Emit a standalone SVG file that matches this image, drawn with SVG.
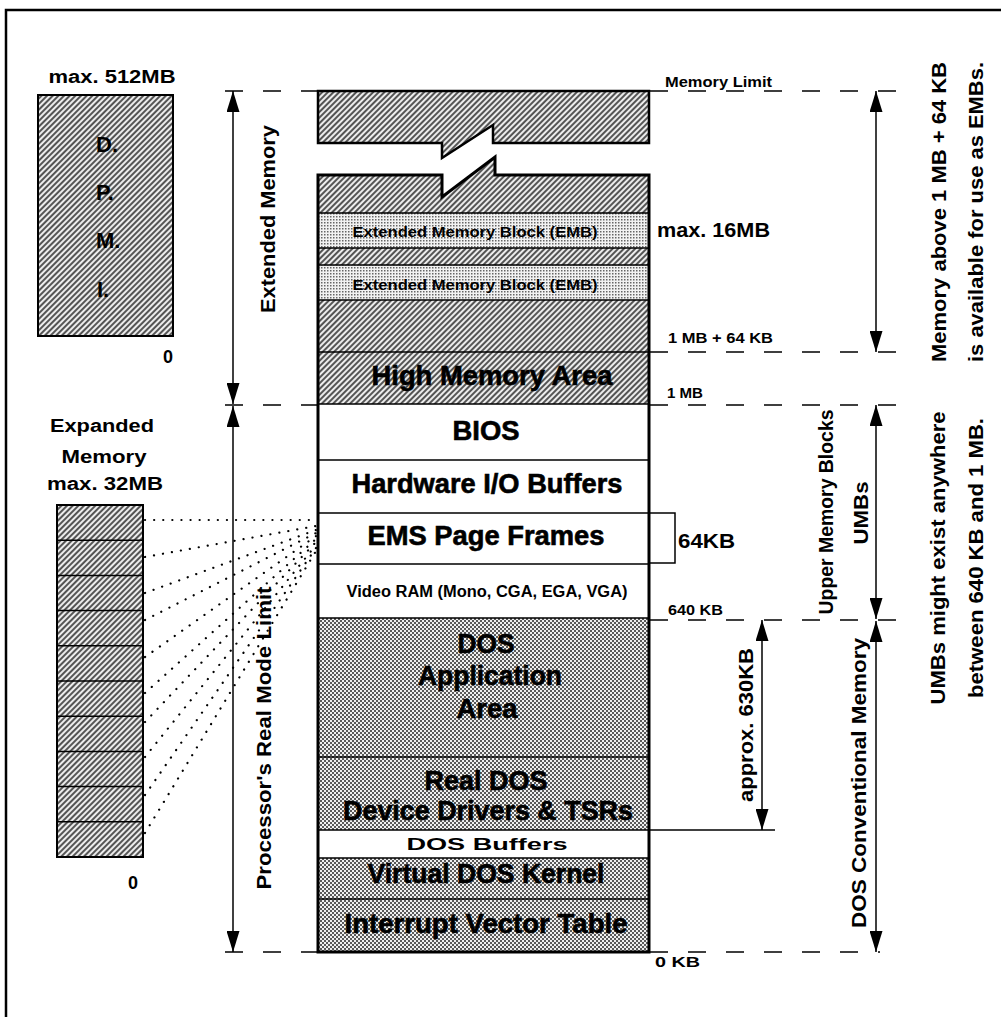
<svg xmlns="http://www.w3.org/2000/svg" width="1001" height="1017" viewBox="0 0 1001 1017">
<style>
.t{font-family:"Liberation Sans",Arial,Helvetica,sans-serif;font-weight:bold;fill:#000}
.big{font-size:27px;stroke:#000;stroke-width:0.6}
.md{font-size:18px}
.sm{font-size:14px}
.rot{font-size:21px}
.mid{text-anchor:middle}
.end{text-anchor:end}
.sep{stroke:#000;stroke-width:1.5}
.box{stroke:#000;stroke-width:2}
.dash{stroke:#000;stroke-width:1.5;stroke-dasharray:18 20;fill:none}
.arr{stroke:#000;stroke-width:1.5;fill:none;marker-start:url(#ah);marker-end:url(#ah)}
.dot{stroke:#000;stroke-width:2.2;stroke-linecap:round;stroke-dasharray:0.1 9;fill:none}
.thin{stroke:#000;stroke-width:1.5;fill:none}
</style>
<defs>
<pattern id="hatch" patternUnits="userSpaceOnUse" width="4" height="4" patternTransform="rotate(45)">
<rect width="4" height="4" fill="#ececec"/><rect width="2" height="4" fill="#555"/>
</pattern>
<pattern id="chk" patternUnits="userSpaceOnUse" width="4" height="4">
<rect width="4" height="4" fill="#f0f0f0"/><rect width="2" height="2" fill="#5a5a5a"/><rect x="2" y="2" width="2" height="2" fill="#5a5a5a"/>
</pattern>
<pattern id="lt" patternUnits="userSpaceOnUse" width="3" height="3">
<rect width="3" height="3" fill="#f2f2f2"/><rect width="1.5" height="1.5" fill="#666"/>
</pattern>
<marker id="ah" markerUnits="userSpaceOnUse" markerWidth="21" markerHeight="13" refX="21" refY="6.5" orient="auto-start-reverse" viewBox="0 0 21 13">
<path d="M0,0 L21,6.5 L0,13 z" fill="#000"/>
</marker>
</defs>
<rect width="1001" height="1017" fill="#fff"/>
<g id="frame"><path d="M6,1017 V10 H1001" fill="none" stroke="#000" stroke-width="2.5"/></g>

<g id="dpmi">
<text class="t md mid" x="112" y="83" textLength="127" lengthAdjust="spacingAndGlyphs">max. 512MB</text>
<rect class="box" x="38" y="95" width="135" height="241" fill="url(#hatch)"/>
<text class="t" style="font-size:22px" x="96" y="152">D.</text>
<text class="t" style="font-size:22px" x="96" y="200">P.</text>
<text class="t" style="font-size:22px" x="96" y="248">M.</text>
<text class="t" style="font-size:22px" x="97" y="297">I.</text>
<text class="t md end" x="173" y="363">0</text>
</g>

<g id="expanded">
<text class="t md mid" x="102" y="432" textLength="104" lengthAdjust="spacingAndGlyphs">Expanded</text>
<text class="t md mid" x="104" y="463" textLength="85" lengthAdjust="spacingAndGlyphs">Memory</text>
<text class="t md mid" x="105" y="490" textLength="116" lengthAdjust="spacingAndGlyphs">max. 32MB</text>
<rect class="box" x="57" y="505" width="86" height="352" fill="url(#hatch)"/>
<path class="sep" d="M57,540.2H143M57,575.4H143M57,610.6H143M57,645.8H143M57,681H143M57,716.2H143M57,751.4H143M57,786.6H143M57,821.8H143"/>
<text class="t md mid" x="133" y="889">0</text>
</g>

<g id="extended-top">
<polygon points="318,91 649,91 649,143 493,143 493,125 442,158 442,143 318,143" fill="url(#hatch)" stroke="#000" stroke-width="2.5"/>
</g>

<g id="memory-column">
<g id="ext-free-1"><polygon points="318,213 318,175 442,175 442,197 495,157 495,175 649,175 649,213" fill="url(#hatch)"/></g>
<g id="emb-1"><rect x="318" y="213" width="331" height="35" fill="url(#lt)"/>
<text class="t sm mid" x="475" y="237" textLength="245" lengthAdjust="spacingAndGlyphs">Extended Memory Block (EMB)</text></g>
<g id="ext-free-2"><rect x="318" y="248" width="331" height="17" fill="url(#hatch)"/></g>
<g id="emb-2"><rect x="318" y="265" width="331" height="35" fill="url(#lt)"/>
<text class="t sm mid" x="475" y="290" textLength="245" lengthAdjust="spacingAndGlyphs">Extended Memory Block (EMB)</text></g>
<g id="ext-free-3"><rect x="318" y="300" width="331" height="52" fill="url(#hatch)"/></g>
<g id="hma"><rect x="318" y="352" width="331" height="52" fill="url(#hatch)"/>
<text class="t big mid" x="492" y="385" textLength="241" lengthAdjust="spacingAndGlyphs">High Memory Area</text></g>
<g id="bios"><rect x="318" y="404" width="331" height="56" fill="#fff"/>
<text class="t big mid" x="486" y="440" textLength="67" lengthAdjust="spacingAndGlyphs">BIOS</text></g>
<g id="hw-io"><rect x="318" y="460" width="331" height="53" fill="#fff"/>
<text class="t big mid" x="487" y="493" textLength="271" lengthAdjust="spacingAndGlyphs">Hardware I/O Buffers</text></g>
<g id="ems"><rect x="318" y="513" width="331" height="51" fill="#fff"/>
<text class="t big mid" x="486" y="545" textLength="237" lengthAdjust="spacingAndGlyphs">EMS Page Frames</text></g>
<g id="video-ram"><rect x="318" y="564" width="331" height="54" fill="#fff"/>
<text class="t mid" style="font-size:16px" x="487" y="597" textLength="281" lengthAdjust="spacingAndGlyphs">Video RAM (Mono, CGA, EGA, VGA)</text></g>
<g id="dos-app"><rect x="318" y="618" width="331" height="139" fill="url(#chk)"/>
<text class="t big mid" x="486" y="653" textLength="57" lengthAdjust="spacingAndGlyphs">DOS</text>
<text class="t big mid" x="490" y="685" textLength="144" lengthAdjust="spacingAndGlyphs">Application</text>
<text class="t big mid" x="487" y="718" textLength="61" lengthAdjust="spacingAndGlyphs">Area</text></g>
<g id="real-dos"><rect x="318" y="757" width="331" height="73" fill="url(#chk)"/>
<text class="t big mid" x="486" y="790" textLength="123" lengthAdjust="spacingAndGlyphs">Real DOS</text>
<text class="t big mid" x="488" y="820" textLength="290" lengthAdjust="spacingAndGlyphs">Device Drivers &amp; TSRs</text></g>
<g id="dos-buffers"><rect x="318" y="830" width="331" height="28" fill="#fff"/>
<text class="t mid" style="font-size:16px" x="487" y="850" textLength="161" lengthAdjust="spacingAndGlyphs">DOS Buffers</text></g>
<g id="vdos-kernel"><rect x="318" y="858" width="331" height="41" fill="url(#chk)"/>
<text class="t big mid" x="486" y="883" textLength="237" lengthAdjust="spacingAndGlyphs">Virtual DOS Kernel</text></g>
<g id="ivt"><rect x="318" y="899" width="331" height="53" fill="url(#chk)"/>
<text class="t big mid" x="486" y="933" textLength="283" lengthAdjust="spacingAndGlyphs">Interrupt Vector Table</text></g>
<path class="sep" d="M318,213H649M318,248H649M318,265H649M318,300H649M318,352H649M318,404H649M318,460H649M318,513H649M318,564H649M318,618H649M318,757H649M318,830H649M318,858H649M318,899H649"/>
<path d="M318,952 V175 H442 V197 L495,157 V175 H649 V952 Z" fill="none" stroke="#000" stroke-width="3"/>
</g>

<g id="labels">
<text class="t sm" x="665" y="87" textLength="107" lengthAdjust="spacingAndGlyphs">Memory Limit</text>
<text class="t" style="font-size:21px" x="657" y="237" textLength="113" lengthAdjust="spacingAndGlyphs">max. 16MB</text>
<text class="t sm" x="668" y="343" textLength="105" lengthAdjust="spacingAndGlyphs">1 MB + 64 KB</text>
<text class="t sm" x="667" y="398" textLength="36" lengthAdjust="spacingAndGlyphs">1 MB</text>
<text class="t" style="font-size:21px" x="678" y="548" textLength="57" lengthAdjust="spacingAndGlyphs">64KB</text>
<text class="t sm" x="668" y="615" textLength="55" lengthAdjust="spacingAndGlyphs">640 KB</text>
<text class="t sm" x="655" y="967" textLength="45" lengthAdjust="spacingAndGlyphs">0 KB</text>
<text class="t rot mid" transform="translate(275,219) rotate(-90)" textLength="188" lengthAdjust="spacingAndGlyphs">Extended Memory</text>
<text class="t rot mid" transform="translate(271,738) rotate(-90)" textLength="303" lengthAdjust="spacingAndGlyphs">Processor's Real Mode Limit</text>
<text class="t rot mid" transform="translate(753,725) rotate(-90)" textLength="154" lengthAdjust="spacingAndGlyphs">approx. 630KB</text>
<text class="t rot mid" style="font-size:20px" transform="translate(833,512) rotate(-90)" textLength="205" lengthAdjust="spacingAndGlyphs">Upper Memory Blocks</text>
<text class="t rot mid" style="font-size:20px" transform="translate(868,513) rotate(-90)" textLength="63" lengthAdjust="spacingAndGlyphs">UMBs</text>
<text class="t rot mid" transform="translate(866,783) rotate(-90)" textLength="290" lengthAdjust="spacingAndGlyphs">DOS Conventional Memory</text>
<text class="t rot mid" transform="translate(946,212) rotate(-90)" textLength="300" lengthAdjust="spacingAndGlyphs">Memory above 1 MB + 64 KB</text>
<text class="t rot mid" transform="translate(983,212) rotate(-90)" textLength="300" lengthAdjust="spacingAndGlyphs">is available for use as EMBs.</text>
<text class="t rot mid" transform="translate(945,558) rotate(-90)" textLength="293" lengthAdjust="spacingAndGlyphs">UMBs might exist anywhere</text>
<text class="t rot mid" transform="translate(983,558) rotate(-90)" textLength="280" lengthAdjust="spacingAndGlyphs">between 640 KB and 1 MB.</text>
</g>

<g id="connectors">
<path class="dash" d="M225,91H318M650,91H898M650,352H898M225,405H318M650,405H898M650,620H898M225,952H318M650,952H880"/>
<line class="arr" x1="233" y1="91" x2="233" y2="404"/>
<line class="arr" x1="233" y1="406" x2="233" y2="952"/>
<line class="arr" x1="876" y1="91" x2="876" y2="352"/>
<line class="arr" x1="876" y1="405" x2="876" y2="619"/>
<line class="arr" x1="876" y1="621" x2="876" y2="952"/>
<line class="arr" x1="762" y1="620" x2="762" y2="830"/>
<path class="thin" d="M650,830H775"/>
<path class="thin" d="M650,513H675V563H650"/>
<g id="ems-mapping">
<path class="dot" d="M145,520L316,520"/>
<path class="dot" d="M145,557L316,526"/>
<path class="dot" d="M145,593L316,530"/>
<path class="dot" d="M145,620L316,533"/>
<path class="dot" d="M145,657L316,536"/>
<path class="dot" d="M145,693L316,539"/>
<path class="dot" d="M145,722L316,542"/>
<path class="dot" d="M145,757L316,545"/>
<path class="dot" d="M145,795L316,548"/>
<path class="dot" d="M145,833L316,551"/>
</g>
</g>
</svg>
